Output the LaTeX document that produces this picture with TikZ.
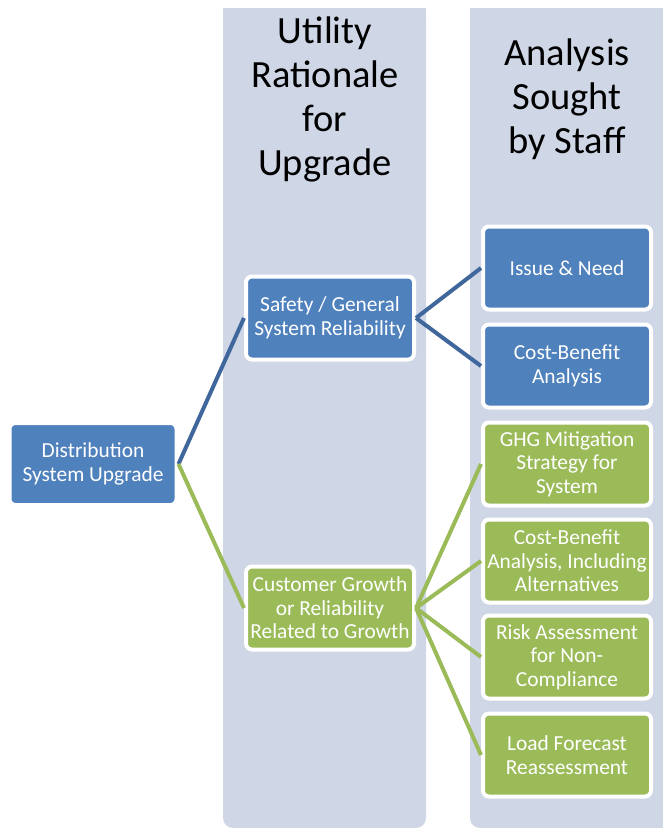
\documentclass[tikz,border=0pt]{standalone}
\usepackage{fontspec}
\setmainfont{Carlito}

\definecolor{upBlueFill}{HTML}{4F81BD}
\definecolor{upBlueLine}{HTML}{3F679B}
\definecolor{upGreenFill}{HTML}{9BBB59}
\definecolor{upColumn}{HTML}{CFD6E6}

\begin{document}
\begin{tikzpicture}[
  x=1pt, y=-1pt,
  box/.style={rounded corners=6pt, draw=white, line width=4pt, text=white,
              align=center, minimum width=168pt, minimum height=83pt,
              inner sep=0pt, font=\fontsize{21.4}{23.5}\selectfont},
  bluebox/.style={box, fill=upBlueFill},
  greenbox/.style={box, fill=upGreenFill},
  header/.style={align=center, inner sep=0pt, font=\fontsize{38.5}{44}\selectfont},
  bluelink/.style={draw=upBlueLine, line width=4pt},
  greenlink/.style={draw=upGreenFill, line width=4pt}
]
  \useasboundingbox (0,0) rectangle (663,828);

  % ---- column backgrounds ----
  \fill[upColumn, rounded corners=10pt] (223,8) rectangle (426,828);
  \fill[upColumn] (223,8) rectangle (426,40);
  \fill[upColumn, rounded corners=10pt] (470,8) rectangle (663,828);
  \fill[upColumn] (470,8) rectangle (663,40);
  \fill[upColumn] (640,8) rectangle (663,828);

  % ---- column headings ----
  \node[header] (hdrRationale) at (325,99) {Utility\\Rationale\\for\\Upgrade};
  \node[header] (hdrAnalysis) at (567,99) {Analysis\\Sought\\by Staff};

  % ---- root and rationale ----
  \node[bluebox, minimum width=167pt, minimum height=82pt] (dsu) at (93,464)
        {Distribution\\System Upgrade};
  \node[bluebox] (safety) at (330,318) {Safety / General\\System Reliability};
  \node[greenbox] (growth) at (330,608)
        {Customer Growth\\or Reliability\\Related to Growth};

  % ---- analysis sought ----
  \node[bluebox] (issue) at (567,268) {Issue \& Need};
  \node[bluebox] (cba) at (567,366) {Cost-Benefit\\Analysis};
  \node[greenbox] (ghg) at (567,464) {GHG Mitigation\\Strategy for\\System};
  \node[greenbox] (cbaAlt) at (567,561) {Cost-Benefit\\Analysis, Including\\Alternatives};
  \node[greenbox] (risk) at (567,657) {Risk Assessment\\for Non-\\Compliance};
  \node[greenbox] (load) at (567,755) {Load Forecast\\Reassessment};

  % ---- connectors ----
  \draw[bluelink] (dsu.east) -- (safety.west);
  \draw[greenlink] (dsu.east) -- (growth.west);
  \draw[bluelink] (safety.east) -- (issue.west);
  \draw[bluelink] (safety.east) -- (cba.west);
  \foreach \leaf in {ghg, cbaAlt, risk, load}
    \draw[greenlink] (growth.east) -- (\leaf.west);
\end{tikzpicture}
\end{document}
